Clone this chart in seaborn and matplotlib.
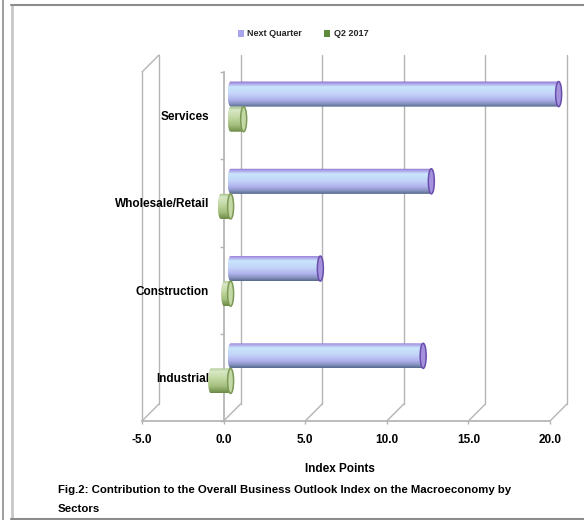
import numpy as np
import pandas as pd
import matplotlib
matplotlib.use("Agg")
import matplotlib.pyplot as plt
import seaborn as sns
from matplotlib.transforms import ScaledTranslation
from matplotlib.patches import Ellipse, PathPatch, Patch, ConnectionPatch
from matplotlib.lines import Line2D
from matplotlib.path import Path
from matplotlib.colors import LinearSegmentedColormap

# ---- data -------------------------------------------------------------
sectors = ["Services", "Wholesale/Retail", "Construction", "Industrial"]
series_names = ["Next Quarter", "Q2 2017"]
next_quarter = [20.1, 12.3, 5.5, 11.8]
q2_2017 = [0.8, -0.6, -0.4, -1.2]
x_ticks = [-5.0, 0.0, 5.0, 10.0, 15.0, 20.0]
x_label = "Index Points"
caption_lines = [
    "Fig.2: Contribution to the Overall Business Outlook Index on the Macroeconomy by",
    "Sectors",
]

# ---- style ------------------------------------------------------------
sns.set_theme(style="white")
plt.rcParams["font.family"] = ["Liberation Sans Narrow", "Liberation Sans", "DejaVu Sans"]
plt.rcParams["font.weight"] = "bold"

GRID = "#b4b4b4"
TEXT = "#000000"

df = pd.DataFrame({
    "Sector": sectors * 2,
    "Series": [series_names[0]] * len(sectors) + [series_names[1]] * len(sectors),
    "Value": next_quarter + q2_2017,
})

W, H = 584, 520
DPI = 100
fig = plt.figure(figsize=(W / DPI, H / DPI), dpi=DPI)

# front plane of the 3-D box, in pixels
L, R, T, B = 142, 550, 72, 421
ax = fig.add_axes([L / W, (H - B) / H, (R - L) / W, (B - T) / H])

sns.barplot(data=df, x="Value", y="Sector", hue="Series", order=sectors,
            hue_order=series_names, orient="h", width=0.575, errorbar=None,
            legend=False, ax=ax)

ax.set_xlim(x_ticks[0], x_ticks[-1])
ax.set_ylim(len(sectors) - 0.5, -0.5)
ax.patch.set_alpha(0)

# depth offsets for the back wall and for the cylinders
back = ax.transData + ScaledTranslation(17 / DPI, 17 / DPI, fig.dpi_scale_trans)
shift = ax.transData + ScaledTranslation(7 / DPI, 9 / DPI, fig.dpi_scale_trans)

y_lo, y_hi = ax.get_ylim()  # bottom, top (inverted)

# back-wall gridlines and floor diagonals
for t in x_ticks:
    ax.add_line(Line2D([t, t], [y_lo, y_hi], transform=back, color=GRID,
                       lw=1.0, clip_on=False, zorder=0.5))
    fig.add_artist(ConnectionPatch((t, y_lo), (t, y_lo), coordsA=ax.transData,
                                   coordsB=back, color=GRID, lw=1.0, zorder=0.5))
# left wall
ax.add_line(Line2D([x_ticks[0], x_ticks[0]], [y_lo, y_hi], transform=ax.transData,
                   color=GRID, lw=1.0, clip_on=False, zorder=0.5))
fig.add_artist(ConnectionPatch((x_ticks[0], y_hi), (x_ticks[0], y_hi),
                               coordsA=ax.transData, coordsB=back,
                               color=GRID, lw=1.0, zorder=0.5))

# ---- cylinders --------------------------------------------------------
nq_cmap = LinearSegmentedColormap.from_list("nq", [
    (0.0, "#8468c4"), (0.07, "#a898e4"), (0.22, "#c9e6fc"), (0.5, "#c3d3f8"),
    (0.72, "#b0b2ec"), (0.88, "#8893c2"), (1.0, "#56698a")])
q2_cmap = LinearSegmentedColormap.from_list("q2", [
    (0.0, "#9fbc80"), (0.15, "#d8e8c6"), (0.45, "#c2d8a2"), (0.75, "#a3bd7c"),
    (1.0, "#6c8a45")])
caps = {
    series_names[0]: ("#a493dc", "#6a4eae"),
    series_names[1]: ("#c4d8a6", "#7c9a56"),
}
cmaps = {series_names[0]: nq_cmap, series_names[1]: q2_cmap}

px_per_unit = (R - L) / (x_ticks[-1] - x_ticks[0])
a = 3.0 / px_per_unit  # half-width of the elliptical end caps
grad = np.linspace(0, 1, 64).reshape(-1, 1)

for p in ax.patches:
    p.set_visible(False)

for p in list(ax.patches):
    x0, w = p.get_x(), p.get_width()
    y0, h = p.get_y(), p.get_height()
    xl, xr = min(x0, x0 + w), max(x0, x0 + w)
    yc = y0 + h / 2
    b = h / 2
    # the upper bar of each pair belongs to the first series
    idx = int(round(yc))
    series = series_names[0] if yc < idx else series_names[1]
    cmap = cmaps[series]

    th1 = np.linspace(np.pi / 2, 3 * np.pi / 2, 30)
    th2 = np.linspace(-np.pi / 2, np.pi / 2, 30)
    verts = np.vstack([
        np.column_stack([xl + a * np.cos(th1), yc + b * np.sin(th1)]),
        np.column_stack([xr + a * np.cos(th2), yc + b * np.sin(th2)]),
    ])
    verts = np.vstack([verts, verts[:1]])
    body = PathPatch(Path(verts, closed=True), transform=shift,
                     facecolor="none", edgecolor="none", zorder=2, clip_on=False)
    ax.add_patch(body)
    im = ax.imshow(grad, cmap=cmap, aspect="auto", interpolation="bilinear",
                   extent=(xl - a, xr + a, y0 + h, y0), transform=shift,
                   zorder=2)
    im.set_clip_path(body)
    im.set_clip_box(fig.bbox)
    face, edge = caps[series]
    ax.add_patch(Ellipse((xr, yc), 2 * a, h, transform=shift, facecolor=face,
                         edgecolor=edge, lw=1.1, zorder=3, clip_on=False))

ax.set_xlim(x_ticks[0], x_ticks[-1])
ax.set_ylim(len(sectors) - 0.5, -0.5)

# ---- axes -------------------------------------------------------------
for s in ["top", "right"]:
    ax.spines[s].set_visible(False)
ax.spines["left"].set_position(("data", 0))
ax.spines["left"].set_color(GRID)
ax.spines["bottom"].set_color(GRID)
ax.spines["left"].set_zorder(1)
ax.spines["bottom"].set_zorder(1)

ax.set_xticks(x_ticks)
ax.set_xticklabels([f"{t:.1f}" for t in x_ticks])
ax.tick_params(axis="x", bottom=True, length=2.5, width=1, color=GRID,
               pad=7, labelsize=8.5, labelcolor=TEXT)
ax.set_yticks(range(len(sectors)))
ax.set_yticklabels(sectors)
ax.set_yticks(np.arange(-0.5, len(sectors)), minor=True)
ax.tick_params(axis="y", which="major", left=True, length=0, pad=10.5,
               labelsize=8.5, labelcolor=TEXT)
ax.tick_params(axis="y", which="minor", left=True, length=3, width=1, color=GRID)
for lab in ax.get_xticklabels() + ax.get_yticklabels():
    lab.set_fontweight("bold")
ax.set_xlabel("")
ax.set_ylabel("")

fig.text(340 / W, 1 - 469 / H, x_label, ha="center", va="center",
         fontsize=8.5, fontweight="bold", color=TEXT)
fig.text(58 / W, 1 - 490 / H, caption_lines[0], ha="left", va="center",
         fontsize=8.2, fontweight="bold", color=TEXT)
fig.text(58 / W, 1 - 509 / H, caption_lines[1], ha="left", va="center",
         fontsize=8.2, fontweight="bold", color=TEXT)

# legend
handles = [Patch(facecolor="#a9a4ee", edgecolor="none"),
           Patch(facecolor="#5f8a3a", edgecolor="none")]
fig.legend(handles, series_names, loc="center", bbox_to_anchor=(303 / W, 1 - 34 / H),
           ncol=2, frameon=False, handlelength=0.7, handleheight=0.7,
           handletextpad=0.4, columnspacing=2.4, prop={"size": 6.5, "weight": "bold"})

# frame lines
fig.add_artist(Line2D([2.5 / W, 2.5 / W], [0, 1], transform=fig.transFigure,
                      color="#8c8c8c", lw=1.2))
fig.add_artist(Line2D([11.5 / W, 11.5 / W], [1 - 5 / H, 1 - 519 / H],
                      transform=fig.transFigure, color="#c8c8c8", lw=2))
fig.add_artist(Line2D([11 / W, 1], [1 - 5 / H, 1 - 5 / H],
                      transform=fig.transFigure, color="#8c8c8c", lw=1.5))
fig.add_artist(Line2D([11 / W, 1], [1 - 519 / H, 1 - 519 / H],
                      transform=fig.transFigure, color="#8c8c8c", lw=1.5))

fig.savefig("out.png", dpi=DPI)
